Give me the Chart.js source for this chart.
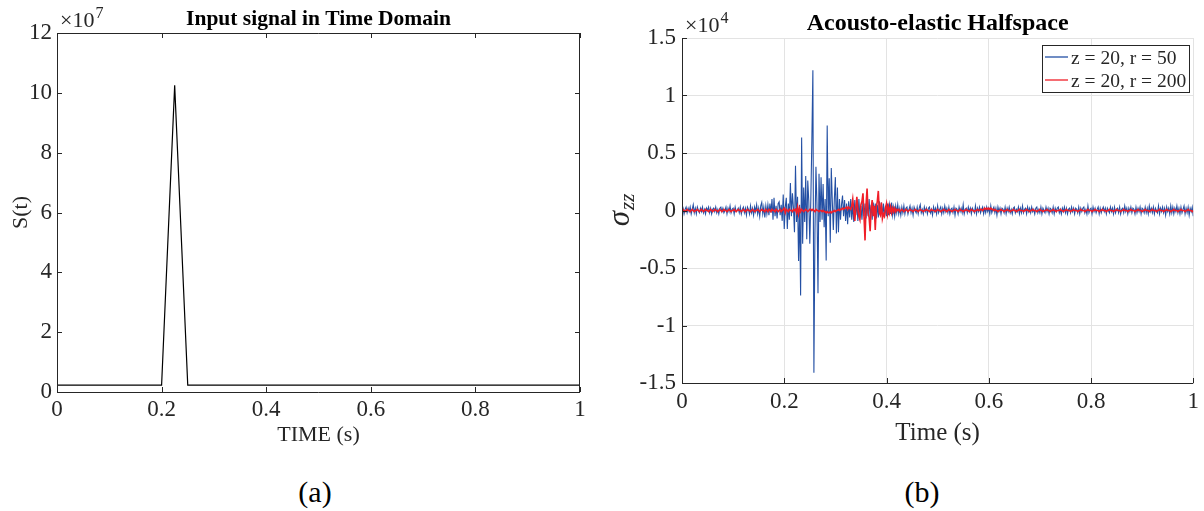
<!DOCTYPE html>
<html>
<head>
<meta charset="utf-8">
<script src="https://cdn.jsdelivr.net/npm/chart.js@4.4.1/dist/chart.umd.min.js"></script>
<style>
body { margin: 0; background: #fff; }
#page { position: relative; width: 1204px; height: 511px; background: #fff; font-family: "Liberation Serif", "Times New Roman", serif; }
canvas { position: absolute; top: 0; }
#canvasInput { left: 0; }
#canvasSigma { left: 600px; }
.cap { position: absolute; top: 474px; font-size: 30px; line-height: 36px; color: #000; transform: translateX(-50%); }
</style>
</head>
<body>
<div id="page">
  <canvas id="canvasInput" width="600" height="460"></canvas>
  <canvas id="canvasSigma" width="604" height="460"></canvas>
  <div class="cap" style="left:315px">(a)</div>
  <div class="cap" style="left:922px">(b)</div>
</div>
<script>
// ---- data ----
const timeTicks = [0, 0.2, 0.4, 0.6, 0.8, 1];

// (a) input pulse, S(t) in units of 1e7
const inputTime = [0, 0.2, 0.225, 0.25, 1];
const inputSignal = [0.23, 0.23, 10.25, 0.23, 0.23];
const inputYTicks = [0, 2, 4, 6, 8, 10, 12];

// (b) sigma_zz in units of 1e4, one sample every 2 ms
const sampleStep = 0.002;
const sigmaYTicks = [-1.5, -1, -0.5, 0, 0.5, 1, 1.5];
const legendLabels = ['z = 20, r = 50', 'z = 20, r = 200'];

const sigmaR50 = [
  0.00,0.02,-0.03,0.01,0.03,-0.02,0.02,-0.01,0.03,-0.03,0.01,0.05,-0.02,0.02,-0.03,0.03,0.00,-0.02,0.02,-0.01,
  0.03,-0.02,0.01,-0.03,0.02,0.00,0.03,-0.02,0.02,-0.03,0.01,0.02,-0.01,0.03,-0.02,0.01,-0.03,0.02,0.03,-0.01,
  0.02,-0.02,0.00,0.03,-0.03,0.02,-0.01,0.04,-0.02,0.01,0.02,-0.03,0.03,-0.01,0.00,0.02,-0.02,0.03,-0.03,0.01,
  0.03,-0.02,0.02,-0.04,0.03,0.01,-0.03,0.04,-0.02,0.02,-0.04,0.03,-0.01,0.05,-0.03,0.02,-0.05,0.04,0.07,-0.03,
  0.03,-0.06,0.04,-0.03,0.05,-0.04,0.06,-0.02,0.10,-0.08,0.11,-0.05,0.04,-0.07,0.06,0.075,-0.04,0.05,-0.09,0.14,
  -0.16,0.03,0.11,-0.16,0.06,-0.08,0.24,-0.05,0.15,0.02,-0.19,0.39,-0.10,0.12,-0.44,0.05,-0.74,0.635,-0.29,0.20,
  -0.10,0.30,-0.25,0.26,0.08,-0.29,0.10,0.61,1.22,-1.41,-0.20,0.38,0.05,-0.72,0.32,-0.10,0.29,-0.08,0.23,-0.145,
  0.10,-0.435,0.74,-0.05,0.28,-0.28,0.37,0.08,-0.17,0.10,0.29,-0.20,0.20,-0.19,0.10,-0.08,0.05,0.13,-0.05,0.09,
  -0.09,0.06,-0.12,0.08,-0.06,0.10,-0.08,0.05,-0.10,0.09,-0.04,0.07,-0.09,0.10,-0.06,0.04,-0.08,0.09,-0.05,0.06,
  -0.07,0.08,-0.05,0.10,-0.06,0.05,-0.08,0.07,-0.04,0.06,-0.07,0.05,-0.06,0.08,-0.04,0.07,-0.05,0.06,-0.06,0.04,
  -0.05,0.06,-0.04,0.05,-0.03,0.07,-0.04,0.03,-0.05,0.04,-0.02,0.05,-0.03,0.02,-0.04,0.03,-0.02,0.04,-0.03,0.02,
  0.03,-0.03,0.01,0.04,-0.02,0.02,-0.04,0.03,0.00,-0.02,0.03,-0.03,0.02,0.05,-0.02,0.01,-0.03,0.03,-0.01,0.02,
  -0.03,0.02,0.03,-0.02,0.01,-0.04,0.03,-0.01,0.02,-0.03,0.04,-0.02,0.01,0.03,-0.03,0.02,-0.02,0.04,-0.01,0.02,
  -0.02,0.03,-0.03,0.01,0.02,-0.02,0.03,-0.04,0.02,0.01,-0.03,0.03,-0.01,0.02,-0.02,0.05,-0.03,0.01,0.02,-0.02,
  0.03,-0.01,0.02,-0.03,0.02,0.00,-0.02,0.04,-0.03,0.02,-0.01,0.03,-0.02,0.01,0.03,-0.03,0.02,-0.02,0.03,-0.01,
  0.02,-0.03,0.04,-0.02,0.01,0.03,-0.02,0.02,-0.04,0.03,-0.01,0.02,-0.03,0.02,0.01,-0.02,0.03,-0.03,0.02,-0.01,
  0.03,-0.02,0.01,-0.03,0.02,0.03,-0.02,0.01,-0.01,0.03,-0.03,0.02,-0.02,0.04,-0.02,0.01,0.02,-0.03,0.03,-0.01,
  0.02,-0.02,0.03,-0.01,0.01,-0.03,0.02,0.03,-0.02,0.01,-0.02,0.03,-0.03,0.02,0.00,-0.02,0.03,-0.01,0.02,-0.03,
  0.02,0.01,-0.02,0.03,-0.03,0.02,-0.01,0.02,0.03,-0.02,0.01,-0.03,0.02,-0.01,0.03,-0.02,0.02,-0.03,0.01,0.02,
  -0.02,0.03,-0.01,0.02,-0.03,0.02,0.01,-0.02,0.03,-0.03,0.02,-0.01,0.02,0.03,-0.02,0.01,-0.03,0.04,-0.02,0.01,
  0.02,-0.03,0.03,-0.01,0.02,-0.02,0.01,0.03,-0.03,0.02,-0.02,0.01,0.03,-0.01,0.02,-0.03,0.02,0.00,-0.02,0.03,
  -0.01,0.02,-0.03,0.03,-0.02,0.01,0.02,-0.02,0.03,-0.03,0.01,0.02,-0.02,0.04,-0.01,0.02,-0.03,0.02,-0.01,0.03,
  -0.02,0.02,0.01,-0.03,0.03,-0.02,0.02,-0.01,0.03,-0.03,0.02,0.01,-0.02,0.03,-0.02,0.02,-0.03,0.04,-0.01,0.02,
  -0.02,0.03,-0.03,0.02,0.00,-0.02,0.04,-0.03,0.02,-0.01,0.03,-0.02,0.02,-0.04,0.03,-0.01,0.02,-0.03,0.04,-0.02,
  0.03,-0.03,0.02,-0.01,0.04,-0.02,0.02,-0.03,0.03,-0.02,0.01,0.04,-0.03,0.02,-0.02,0.03,-0.04,0.02,-0.01,0.03,
  -0.05
];

const sigmaR200 = [
  0,0.01,0,-0.01,0,0.01,0,0,-0.01,0,0.01,0,-0.01,0,0,0.01,0,-0.01,0,0.01,
  0,-0.01,0,0.01,0,0,-0.01,0,0.01,0,-0.01,0,0.01,0,0,-0.01,0,0.01,0,-0.01,
  0,0.01,0,0,-0.01,0,0.01,0,-0.01,0,0,0.01,0,-0.01,0,0.01,0,0,-0.01,0,
  0.01,0,-0.01,0,0.01,0,0,-0.01,0,0.01,0,-0.01,0,0,0.01,0,-0.01,0,0.01,0,
  0,-0.01,0.01,0,-0.01,0.01,0,-0.01,0.01,0,0,-0.01,0.01,0,-0.01,0,0.01,-0.01,0,0.01,
  0.02,-0.02,0.01,0,-0.01,0.01,0,0,-0.01,0.01,0,0.01,-0.02,0.03,-0.03,0.02,-0.01,0.01,0,-0.01,
  0,0.01,0,-0.01,0,0.01,0.01,0,0.01,0,-0.01,0.01,0,0,-0.01,0,0,-0.01,0,-0.01,
  -0.01,-0.02,-0.01,-0.02,-0.02,-0.01,-0.02,-0.01,-0.01,0,-0.01,0,0,0.01,0,0.01,0.01,0.02,0.01,0.02,
  0.02,0.03,0.01,0.03,0.02,0.01,0.04,0.10,0,-0.09,0.02,0.12,0.01,-0.05,-0.08,0.05,0.08,0.15,-0.05,-0.26,
  0.05,0.19,-0.02,-0.06,-0.18,0.02,0.09,-0.05,0.04,-0.17,0.03,0.08,0.17,-0.02,-0.04,0.07,-0.07,-0.03,-0.05,0.02,
  0.06,-0.03,0.03,-0.02,0.03,-0.02,0.02,-0.01,0.02,-0.01,0.01,0,0.01,-0.01,0,0.01,0,-0.01,0,0.01,
  0,-0.01,0,0.01,0,0,-0.01,0,0.01,0,0,-0.01,0,0.01,0,0,-0.01,0,0,0.01,
  0,0,-0.01,0,0.01,0,0,0,-0.01,0,0.01,0,0,-0.01,0,0,0.01,0,0,-0.01,
  0,0.01,0,0,-0.01,0,0,0.01,0,0,-0.01,0,0.01,0,0,-0.01,0,0,0.01,0,
  0,-0.01,0,0.01,0,0,-0.01,0,0,0.01,0,0,0.01,0.01,0,0.01,0.02,0.01,0.02,0.01,
  0.02,0.01,0.02,0.01,0.01,0,0.01,0,0,-0.01,0,0,0.01,0,0,-0.01,0,0,0.01,0,
  0,-0.01,0,0,0.01,0,0,-0.01,0,0,0.01,0,0,0,-0.01,0,0,0.01,0,0,
  -0.01,0,0,0.01,0,0,0,-0.01,0,0,0.01,0,0,-0.01,0,0,0,0.01,0,0,
  -0.01,0,0,0.01,0,0,-0.01,0,0,0,0.01,0,0,-0.01,0,0,0.01,0,0,0,
  -0.01,0,0,0.01,0,0,0,-0.01,0,0,0.01,0,0,0,-0.01,0,0,0.01,0,0,
  0,-0.01,0,0,0.01,0,0,0,-0.01,0,0,0.01,0,0,0,-0.01,0,0,0.01,0,
  0,0,-0.01,0,0,0.01,0,0,0,-0.01,0,0,0.01,0,0,0,-0.01,0,0,0.01,
  0,0,0,-0.01,0,0,0.01,0,0,0,-0.01,0,0,0.01,0,0,0,-0.01,0,0,
  0.01,0,0,0,-0.01,0,0,0.01,0,0,0,-0.01,0,0,0.01,0,0,0,-0.01,0,
  0,0.01,0,0,0,-0.01,0,0,0.01,0,0,0,-0.01,0,0,0.01,0,0,0,-0.01,
  0
];

// ---- helpers ----
const serif = '"Liberation Serif", "Times New Roman", serif';
const axisGray = '#262626';
const blueLine = '#2450a4';
const redLine = '#f01e28';

Chart.defaults.font.family = serif;
Chart.defaults.color = axisGray;

function toPoints(xs, ys) {
    return ys.map((y, i) => ({ x: xs[i], y: y }));
}
function sampleTimes(values) {
    return values.map((v, i) => +(i * sampleStep).toFixed(3));
}
function fixedTicks(list) {
    return scale => { scale.ticks = list.map(v => ({ value: v })); };
}

// box, inward tick marks
const framePlugin = {
    id: 'frame',
    afterDatasetsDraw(chart, args, opts) {
        const { ctx, chartArea: a, scales } = chart;
        const len = 5;
        ctx.save();
        ctx.strokeStyle = axisGray;
        ctx.lineWidth = 1;
        ctx.beginPath();
        ctx.moveTo(a.left + 0.5, a.top);
        ctx.lineTo(a.left + 0.5, a.bottom + 0.5);
        ctx.lineTo(a.right, a.bottom + 0.5);
        if (opts.box) {
            ctx.moveTo(a.left, a.top + 0.5);
            ctx.lineTo(a.right - 0.5, a.top + 0.5);
            ctx.lineTo(a.right - 0.5, a.bottom);
        }
        scales.x.ticks.forEach(t => {
            const px = Math.round(scales.x.getPixelForValue(t.value)) + 0.5;
            ctx.moveTo(px, a.bottom);
            ctx.lineTo(px, a.bottom - len);
            if (opts.box) {
                ctx.moveTo(px, a.top);
                ctx.lineTo(px, a.top + len);
            }
        });
        scales.y.ticks.forEach(t => {
            const py = Math.round(scales.y.getPixelForValue(t.value)) + 0.5;
            ctx.moveTo(a.left, py);
            ctx.lineTo(a.left + len, py);
            if (opts.box) {
                ctx.moveTo(a.right, py);
                ctx.lineTo(a.right - len, py);
            }
        });
        ctx.stroke();
        ctx.restore();
    }
};

// bold title and the x10^n multiplier above the y axis
const headerPlugin = {
    id: 'header',
    afterDraw(chart, args, opts) {
        const { ctx, chartArea: a } = chart;
        ctx.save();
        ctx.fillStyle = '#000';
        ctx.textAlign = 'center';
        ctx.textBaseline = 'alphabetic';
        ctx.font = 'bold ' + opts.titleSize + 'px ' + serif;
        ctx.fillText(opts.title, (a.left + a.right) / 2, opts.titleY);

        ctx.fillStyle = axisGray;
        ctx.textAlign = 'left';
        ctx.font = '22px ' + serif;
        const base = '\u00d710';
        const x0 = a.left + 3;
        ctx.fillText(base, x0, opts.expY);
        const w = ctx.measureText(base).width;
        ctx.font = '16px ' + serif;
        ctx.fillText(opts.exp, x0 + w + 1, opts.expY - 9);
        ctx.restore();
    }
};

// sigma_zz label and the boxed legend
const sigmaExtras = {
    id: 'sigmaExtras',
    afterDraw(chart) {
        const { ctx, chartArea: a } = chart;
        ctx.save();
        // y label
        ctx.translate(21, (a.top + a.bottom) / 2);
        ctx.rotate(-Math.PI / 2);
        ctx.fillStyle = axisGray;
        ctx.textBaseline = 'middle';
        ctx.font = 'italic 31px ' + serif;
        const ws = ctx.measureText('\u03c3').width;
        ctx.font = 'italic 21px ' + serif;
        const wz = ctx.measureText('zz').width;
        const x0 = -(ws + wz) / 2;
        ctx.font = 'italic 31px ' + serif;
        ctx.fillText('\u03c3', x0, 0);
        ctx.font = 'italic 21px ' + serif;
        ctx.fillText('zz', x0 + ws + 1, 7);
        ctx.restore();

        // legend
        const bx = 442, by = 45, bw = 147, bh = 47;
        ctx.save();
        ctx.fillStyle = '#fff';
        ctx.fillRect(bx, by, bw, bh);
        ctx.strokeStyle = axisGray;
        ctx.lineWidth = 1;
        ctx.strokeRect(bx + 0.5, by + 0.5, bw, bh);
        const colors = [blueLine, redLine];
        ctx.font = '19.5px ' + serif;
        ctx.textBaseline = 'alphabetic';
        legendLabels.forEach((lab, i) => {
            const y = by + 12 + i * 23;
            ctx.globalAlpha = 0.65;
            ctx.strokeStyle = colors[i];
            ctx.lineWidth = 2;
            ctx.beginPath();
            ctx.moveTo(bx + 3, y);
            ctx.lineTo(bx + 26, y);
            ctx.stroke();
            ctx.globalAlpha = 1;
            ctx.fillStyle = axisGray;
            ctx.fillText(lab, bx + 29, y + 7);
        });
        ctx.restore();
    }
};

function tickFont() { return { size: 23, family: serif }; }

// ---- (a) input signal ----
new Chart(document.getElementById('canvasInput'), {
    type: 'line',
    data: {
        datasets: [{
            data: toPoints(inputTime, inputSignal),
            borderColor: '#000',
            borderWidth: 1.2,
            pointRadius: 0,
            tension: 0
        }]
    },
    options: {
        responsive: false,
        animation: false,
        layout: { padding: { left: 0, right: 20, top: 33, bottom: 12 } },
        plugins: {
            legend: { display: false },
            tooltip: { enabled: false },
            frame: { box: true },
            header: { title: 'Input signal in Time Domain', titleSize: 21.5, titleY: 25, exp: '7', expY: 27 }
        },
        scales: {
            x: {
                type: 'linear', min: 0, max: 1,
                afterBuildTicks: fixedTicks(timeTicks),
                afterFit: s => { s.height = 56; },
                grid: { display: false, drawTicks: false },
                border: { display: false },
                ticks: { font: tickFont(), padding: 4, autoSkip: false, maxRotation: 0, callback: v => String(v) },
                title: { display: true, text: 'TIME (s)', font: { size: 22, family: serif }, padding: 0 }
            },
            y: {
                type: 'linear', min: 0, max: 12,
                afterBuildTicks: fixedTicks(inputYTicks),
                afterFit: s => { s.width = 57; },
                grid: { display: false, drawTicks: false },
                border: { display: false },
                ticks: { font: tickFont(), padding: 5, autoSkip: false, callback: v => String(v) },
                title: { display: true, text: 'S(t)', font: { size: 22, family: serif }, padding: { top: 8 } }
            }
        }
    },
    plugins: [framePlugin, headerPlugin]
});

// ---- (b) acousto-elastic halfspace ----
new Chart(document.getElementById('canvasSigma'), {
    type: 'line',
    data: {
        datasets: [{
            label: legendLabels[1],
            data: toPoints(sampleTimes(sigmaR200), sigmaR200),
            borderColor: redLine,
            borderWidth: 1.6,
            pointRadius: 0,
            tension: 0
        }, {
            label: legendLabels[0],
            data: toPoints(sampleTimes(sigmaR50), sigmaR50),
            borderColor: blueLine,
            borderWidth: 1.1,
            pointRadius: 0,
            tension: 0
        }]
    },
    options: {
        responsive: false,
        animation: false,
        layout: { padding: { left: 0, right: 7, top: 38, bottom: 12 } },
        plugins: {
            legend: { display: false },
            tooltip: { enabled: false },
            frame: { box: false },
            header: { title: 'Acousto-elastic Halfspace', titleSize: 24, titleY: 30, exp: '4', expY: 32 }
        },
        scales: {
            x: {
                type: 'linear', min: 0, max: 1,
                afterBuildTicks: fixedTicks(timeTicks),
                afterFit: s => { s.height = 65; },
                grid: { color: '#e3e3e3', drawTicks: false },
                border: { display: false },
                ticks: { font: tickFont(), padding: 5, autoSkip: false, maxRotation: 0, callback: v => String(v) },
                title: { display: true, text: 'Time (s)', font: { size: 25, family: serif }, padding: 0 }
            },
            y: {
                type: 'linear', min: -1.5, max: 1.5,
                afterBuildTicks: fixedTicks(sigmaYTicks),
                afterFit: s => { s.width = 82; },
                grid: { color: '#e3e3e3', drawTicks: false },
                border: { display: false },
                ticks: { font: tickFont(), padding: 6, autoSkip: false, callback: v => String(v) },
                title: { display: false }
            }
        }
    },
    plugins: [framePlugin, headerPlugin, sigmaExtras]
});
</script>
</body>
</html>
